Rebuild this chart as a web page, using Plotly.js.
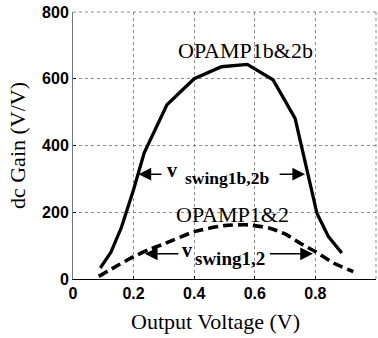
<!DOCTYPE html>
<html>
<head>
<meta charset="utf-8">
<script src="https://cdn.plot.ly/plotly-3.0.1.min.js"></script>
<style>html,body{margin:0;padding:0;background:#fff;}#chart{width:378px;height:338px;}</style>
</head>
<body>
<div id="chart"></div>
<script>
// Output voltage (V) and dc gain (V/V)
var xOpamp1b2b = [0.09, 0.125, 0.16, 0.20, 0.235, 0.31, 0.40, 0.49, 0.575, 0.66, 0.733, 0.777, 0.805, 0.843, 0.887];
var yOpamp1b2b = [33, 80, 155, 268, 378, 522, 600, 636, 643, 597, 481, 306, 197, 127, 78];
var xOpamp12 = [0.085, 0.15, 0.2, 0.25, 0.3, 0.4, 0.5, 0.58, 0.65, 0.7, 0.75, 0.8, 0.86, 0.925];
var yOpamp12 = [8, 42, 67, 88, 105, 142, 160, 162, 152, 135, 107, 82, 48, 22];
var xTickVals = [0, 0.2, 0.4, 0.6, 0.8, 1];
var xTickText = ['0', '0.2', '0.4', '0.6', '0.8', '1'];
var yTickVals = [0, 200, 400, 600, 800];
var yTickText = ['0', '200', '400', '600', '800'];

var traces = [
  {x: xOpamp1b2b, y: yOpamp1b2b, mode: 'lines', name: 'OPAMP1b&2b',
   line: {color: '#000', width: 3.3}},
  {x: xOpamp12, y: yOpamp12, mode: 'lines', name: 'OPAMP1&2',
   line: {color: '#000', width: 3.6, dash: '10px,5px', shape: 'spline', smoothing: 0.6}}
];

var tickFont = {family: 'Liberation Sans, Arial, sans-serif', size: 16, color: '#000', weight: 'bold'};
var serif = 'Liberation Serif, Times New Roman, serif';

function arrow(x, y, ax, ay) {
  return {x: x, y: y, ax: ax, ay: ay, xref: 'x', yref: 'y', axref: 'x', ayref: 'y',
    text: '', showarrow: true, arrowhead: 2, arrowsize: 1.7, arrowwidth: 1.5, arrowcolor: '#000'};
}
function label(x, y, txt, size, bold) {
  return {x: x, y: y, xref: 'x', yref: 'y', text: bold ? '<b>' + txt + '</b>' : txt, showarrow: false,
    xanchor: 'center', yanchor: 'middle', font: {family: serif, size: size, color: '#000'}};
}

var layout = {
  width: 378, height: 338,
  margin: {l: 73, r: 2, t: 12, b: 59},
  paper_bgcolor: '#fff', plot_bgcolor: '#fff',
  showlegend: false,
  xaxis: {
    range: [0, 1], tickmode: 'array', tickvals: xTickVals, ticktext: xTickText,
    showgrid: true, gridcolor: '#8a8a8a', griddash: 'dot', gridwidth: 1,
    showline: true, linecolor: '#000', linewidth: 1,
    ticks: 'inside', ticklen: 3, tickcolor: '#000',
    tickfont: tickFont, zeroline: false, fixedrange: true
  },
  yaxis: {
    range: [0, 800], tickmode: 'array', tickvals: yTickVals, ticktext: yTickText,
    showgrid: true, gridcolor: '#8a8a8a', griddash: 'dot', gridwidth: 1,
    showline: true, linecolor: '#777', linewidth: 1,
    ticks: 'inside', ticklen: 3, tickcolor: '#000',
    tickfont: tickFont, zeroline: false, fixedrange: true,
    title: {text: 'dc Gain (V/V)', font: {family: serif, size: 22, color: '#000'}, standoff: 10}
  },
  shapes: [
    {type: 'line', xref: 'paper', yref: 'paper', x0: 0, x1: 1, y0: 1, y1: 1,
     line: {color: '#8a8a8a', width: 1, dash: 'dot'}},
    {type: 'line', xref: 'paper', yref: 'paper', x0: 1, x1: 1, y0: 0, y1: 1,
     line: {color: '#8a8a8a', width: 1, dash: 'dot'}}
  ],
  annotations: [
    {x: 0.469, y: -0.16, xref: 'paper', yref: 'paper', text: 'Output Voltage (V)', showarrow: false,
     xanchor: 'center', yanchor: 'middle', font: {family: serif, size: 22, color: '#000'}},
    label(0.568, 685, 'OPAMP1b&2b', 22, false),
    label(0.528, 192, 'OPAMP1&2', 22, false),
    label(0.326, 327, 'v', 20, true),
    label(0.508, 302, 'swing1b,2b', 17.5, true),
    label(0.377, 88, 'v', 20, true),
    label(0.518, 62, 'swing1,2', 19, true),
    arrow(0.216, 314, 0.297, 314),
    arrow(0.766, 314, 0.677, 314),
    arrow(0.237, 75.5, 0.353, 75.5),
    arrow(0.792, 75.5, 0.645, 75.5)
  ]
};

Plotly.newPlot('chart', traces, layout, {displayModeBar: false, staticPlot: true});
</script>
</body>
</html>
